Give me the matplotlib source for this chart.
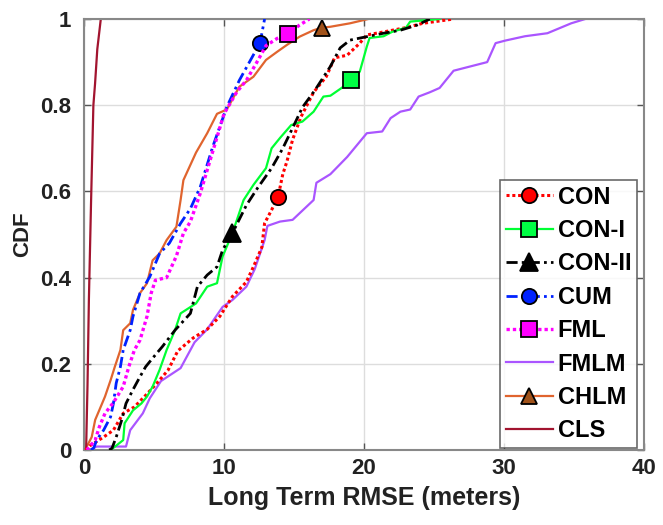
import matplotlib
matplotlib.use("Agg")
import matplotlib.pyplot as plt

# ---- data ----
labels = ["CON", "CON-I", "CON-II", "CUM", "FML", "FMLM", "CHLM", "CLS"]

con_x = [0.1, 0.43, 1.4, 2.1, 2.8, 3.6, 4.5, 5.2, 6.0, 6.7, 7.8, 8.8, 9.7, 10.6, 11.6, 12.1, 12.7, 12.9, 13.4, 13.86,
         14.2, 14.5, 14.9, 15.5, 16.4, 17.3, 17.9, 18.8, 19.7, 20.2, 21.4, 23.0, 24.2, 26.4]
con_y = [0, 0.01, 0.03, 0.046, 0.085, 0.10, 0.13, 0.155, 0.185, 0.23, 0.26, 0.28, 0.31, 0.356, 0.39, 0.425, 0.47, 0.526,
         0.557, 0.587, 0.64, 0.67, 0.72, 0.773, 0.83, 0.866, 0.91, 0.916, 0.944, 0.963, 0.97, 0.98, 0.99, 1.0]

con1_x = [1.9, 2.1, 2.8, 2.9, 3.5, 4.1, 4.5, 4.9, 5.4, 5.9, 6.5, 6.9, 8.0, 8.8, 9.5, 9.9, 10.6, 11.4, 12.1, 13.0, 13.4,
          14.0, 14.8, 15.6, 16.4, 17.1, 17.6, 18.4, 19.1, 19.7, 20.2, 20.4, 21.4, 22.0, 23.0, 23.3, 25.4]
con1_y = [0, 0.005, 0.023, 0.062, 0.092, 0.108, 0.124, 0.147, 0.186, 0.232, 0.278, 0.317, 0.34, 0.379, 0.387, 0.449,
          0.503, 0.58, 0.615, 0.654, 0.70, 0.724, 0.754, 0.762, 0.785, 0.82, 0.822, 0.84, 0.858, 0.878, 0.936, 0.956,
          0.96, 0.97, 0.98, 0.994, 1.0]

con2_x = [1.8, 2.0, 2.3, 2.7, 3.0, 3.5, 4.0, 4.4, 4.9, 5.6, 6.5, 7.6, 8.1, 8.8, 9.5, 9.9, 10.6, 11.6, 12.4, 13.4, 14.2,
          14.9, 15.6, 16.5, 17.6, 18.3, 19.0, 20.2, 21.4, 22.6, 23.8, 24.7]
con2_y = [0, 0.004, 0.03, 0.07, 0.108, 0.14, 0.17, 0.193, 0.213, 0.24, 0.278, 0.317, 0.379, 0.406, 0.425, 0.464, 0.503,
          0.568, 0.608, 0.654, 0.70, 0.747, 0.795, 0.835, 0.89, 0.933, 0.951, 0.959, 0.967, 0.974, 0.986, 1.0]

cum_x = [0.5, 0.7, 0.9, 1.4, 1.9, 2.1, 2.3, 2.6, 2.8, 3.3, 3.5, 4.0, 4.7, 5.4, 6.1, 6.9, 7.6, 8.3, 9.2, 10.2, 11.1, 11.9,
         12.57, 12.9]
cum_y = [0, 0.005, 0.023, 0.046, 0.077, 0.108, 0.155, 0.193, 0.232, 0.278, 0.31, 0.364, 0.402, 0.456, 0.48, 0.526, 0.56,
         0.61, 0.704, 0.796, 0.858, 0.905, 0.944, 1.0]

fml_x = [0.2, 0.8, 1.1, 1.5, 2.1, 2.8, 3.2, 3.6, 4.0, 4.5, 4.8, 5.1, 5.9, 6.6, 7.1, 7.6, 8.3, 9.2, 10.0, 10.9, 11.6, 12.3,
         13.0, 13.8, 14.6, 15.4, 16.1]
fml_y = [0, 0.023, 0.054, 0.085, 0.11, 0.147, 0.193, 0.232, 0.255, 0.31, 0.364, 0.394, 0.40, 0.45, 0.503, 0.53, 0.595,
         0.693, 0.78, 0.83, 0.858, 0.897, 0.938, 0.955, 0.966, 0.986, 1.0]

fmlm_x = [0.4, 0.9, 3.0, 3.3, 4.2, 4.7, 5.5, 6.9, 7.9, 8.8, 9.9, 10.6, 11.6, 12.2, 12.9, 13.1, 14.0, 14.9, 16.4, 16.6,
          17.6, 18.8, 20.2, 21.3, 21.9, 22.6, 23.3, 23.9, 24.7, 25.4, 26.4, 27.6, 28.8, 29.4, 30.1, 31.5, 33.1, 34.8,
          35.8]
fmlm_y = [0, 0.008, 0.008, 0.046, 0.085, 0.12, 0.16, 0.19, 0.25, 0.28, 0.332, 0.348, 0.379, 0.42, 0.487, 0.52, 0.53,
          0.534, 0.58, 0.62, 0.64, 0.68, 0.735, 0.739, 0.77, 0.785, 0.79, 0.82, 0.83, 0.84, 0.88, 0.89, 0.90, 0.944,
          0.95, 0.96, 0.967, 0.99, 1.0]

chlm_x = [0.05, 0.2, 0.55, 0.8, 1.1, 1.5, 1.9, 2.2, 2.6, 2.8, 3.3, 3.5, 4.0, 4.5, 4.9, 5.4, 5.9, 6.6, 6.9, 7.1, 8.0, 8.8,
          9.5, 10.2, 11.1, 12.1, 13.0, 13.8, 14.5, 15.4, 16.4, 17.0, 17.6, 19.0, 20.3]
chlm_y = [0, 0.008, 0.03, 0.07, 0.093, 0.124, 0.162, 0.193, 0.232, 0.278, 0.294, 0.325, 0.364, 0.387, 0.44, 0.456, 0.487,
          0.518, 0.58, 0.626, 0.69, 0.735, 0.78, 0.79, 0.843, 0.866, 0.905, 0.924, 0.94, 0.959, 0.974, 0.98, 0.982,
          0.99, 1.0]

cls_x = [0.15, 0.25, 0.35, 0.5, 0.67, 0.79, 0.95, 1.2]
cls_y = [0, 0.15, 0.35, 0.57, 0.8, 0.85, 0.93, 1.0]

x_ticks = [0, 10, 20, 30, 40]
y_ticks = [0, 0.2, 0.4, 0.6, 0.8, 1.0]
y_tick_labels = ["0", "0.2", "0.4", "0.6", "0.8", "1"]

# ---- figure ----
plt.rcParams['font.family'] = ['Liberation Sans', 'DejaVu Sans']
fig = plt.figure(figsize=(6.63, 5.25), dpi=100)
ax = fig.add_axes([84 / 663, 1 - 450 / 525, (644 - 84) / 663, (450 - 19) / 525])

dot = (0, (1.0, 0.9))
dashdot = (0, (4, 1.5, 1, 1.5))
ms = 11

ax.plot(con_x, con_y, color='#FF0000', lw=2.2, ls=dot, marker='o', markevery=[19], ms=ms,
        mfc='#FF0000', mec='black', mew=1.3, label=labels[0], zorder=3)
ax.plot(con1_x, con1_y, color='#00FF33', lw=1.6, ls='-', marker='s', markevery=[28], ms=ms,
        mfc='#00FF44', mec='black', mew=1.3, label=labels[1], zorder=3)
ax.plot(con2_x, con2_y, color='black', lw=2.0, ls=dashdot, marker='^', markevery=[16], ms=ms + 2,
        mfc='black', mec='black', mew=1.3, label=labels[2], zorder=4)
ax.plot(cum_x, cum_y, color='#0022FF', lw=2.0, ls=dashdot, marker='o', markevery=[22], ms=ms,
        mfc='#0022FF', mec='black', mew=1.3, label=labels[3], zorder=3)
ax.plot(fml_x, fml_y, color='#FF00FF', lw=2.4, ls=dot, marker='s', markevery=[24], ms=ms,
        mfc='#FF00FF', mec='black', mew=1.3, label=labels[4], zorder=3)
ax.plot(fmlm_x, fmlm_y, color='#AA55FF', lw=1.6, ls='-', label=labels[5], zorder=2)
ax.plot(chlm_x, chlm_y, color='#E0642E', lw=1.6, ls='-', marker='^', markevery=[31], ms=ms,
        mfc='#A0521A', mec='black', mew=1.3, label=labels[6], zorder=2)
ax.plot(cls_x, cls_y, color='#A2142F', lw=1.6, ls='-', label=labels[7], zorder=2)

ax.set_xlim(0, 40)
ax.set_ylim(0, 1)
ax.set_xticks(x_ticks)
ax.set_yticks(y_ticks)
ax.set_yticklabels(y_tick_labels)
ax.grid(True, color='#DDDDDD', lw=1.0)
ax.set_axisbelow(True)
ax.tick_params(direction='in', top=True, right=True, length=5, width=1, colors='#555555',
               labelsize=16, labelcolor='#222222')
ax.tick_params(axis='y', pad=9)
ax.tick_params(axis='x', pad=6)
for lab in ax.get_xticklabels() + ax.get_yticklabels():
    lab.set_fontweight('bold')
for s in ax.spines.values():
    s.set_color('#888888')
    s.set_linewidth(1.5)

ax.set_xlabel('Long Term RMSE (meters)', fontsize=18, fontweight='bold', color='#222222', labelpad=5)
ax.set_ylabel('CDF', fontsize=16, fontweight='bold', color='#222222', labelpad=5)

leg = ax.legend(loc='lower right', bbox_to_anchor=(0.988, 0.004), borderaxespad=0,
                prop={'size': 17, 'weight': 'bold'}, handlelength=2.0, handletextpad=0.2,
                labelspacing=0.44, borderpad=0.25, frameon=True, fancybox=False, edgecolor='#444444')
leg.get_frame().set_linewidth(1.2)

fig.savefig('out.png', dpi=100)
